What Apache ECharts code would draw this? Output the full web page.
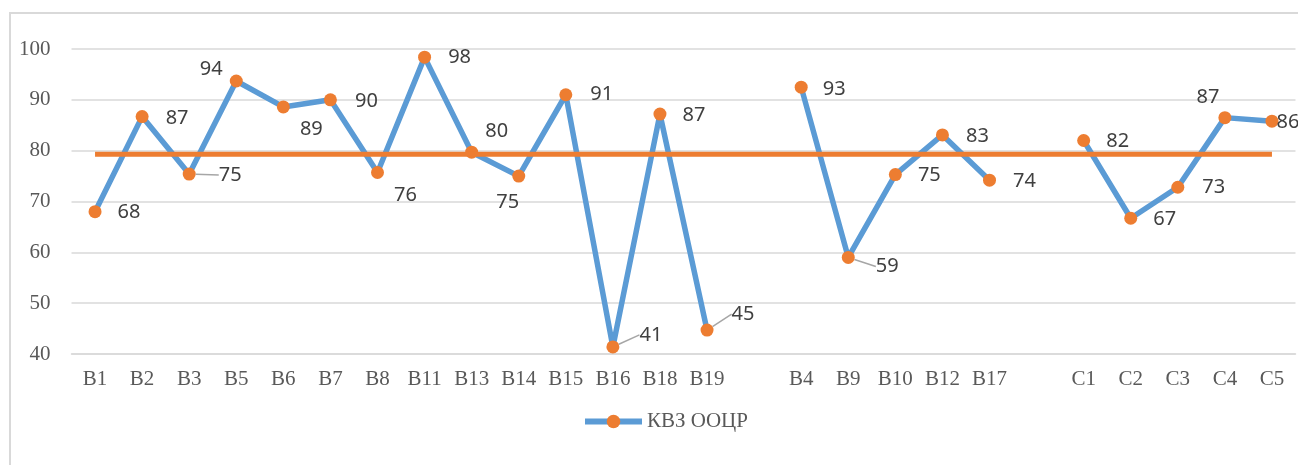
<!DOCTYPE html>
<html>
<head>
<meta charset="utf-8">
<script src="https://cdn.jsdelivr.net/npm/echarts@6/dist/echarts.min.js"></script>
<style>
  html, body { margin: 0; padding: 0; background: #fff; }
  #main { width: 1298px; height: 465px; }
</style>
</head>
<body>
<div id="main"></div>
<script>
// categories, '' = empty slot between groups
const categories = ['B1', 'B2', 'B3', 'B5', 'B6', 'B7', 'B8', 'B11', 'B13', 'B14', 'B15', 'B16', 'B18', 'B19', '',
  'B4', 'B9', 'B10', 'B12', 'B17', '',
  'C1', 'C2', 'C3', 'C4', 'C5']
// КВЗ ООЦР values
const kvzValues = [68, 86.7, 75.4, 93.7, 88.6, 90, 75.7, 98.4, 79.7, 75, 91, 41.4, 87.2, 44.7, null,
  92.5, 59, 75.3, 83.1, 74.2, null,
  82, 66.7, 72.8, 86.5, 85.8]
// the orange mean line
const meanValues = [79.3, 79.3, 79.3, 79.3, 79.3, 79.3, 79.3, 79.3, 79.3, 79.3, 79.3, 79.3, 79.3, 79.3, 79.3,
  79.3, 79.3, 79.3, 79.3, 79.3, 79.3,
  79.3, 79.3, 79.3, 79.3, 79.3]
const yMin = 40
const yMax = 100
const yStep = 10

// label nudges from the point (like in the excel picture), and which ones get a leader line
const labelNudge = [[34, 1], [35, 2], [41, 1], [-25, -12], [28, 22], [36, 1], [28, 23], [35, 0], [25, -21], [-11, 26], [36, 0], [38, -12], [34, 1], [36, -16], [0, 0],
  [33, 2], [39, 9], [34, 1], [35, 1], [35, 1], [0, 0],
  [34, 1], [34, 1], [36, 0], [-17, -20], [16, 1]]
const withLeader = [2, 11, 13, 16]

let chart = echarts.init(document.getElementById('main'))

let blueData = kvzValues.map((v, i) => {
  if (withLeader.indexOf(i) >= 0) {
    return { value: v, labelLine: { show: true } }
  }
  return v
})

let option = {
  animation: false,
  graphic: [
    {
      type: 'rect',
      shape: { x: 10, y: 13, width: 1400, height: 600 },
      style: { fill: 'none', stroke: '#d9d9d9', lineWidth: 2 },
      silent: true
    }
  ],
  grid: {
    left: 71.5,
    right: 2.5,
    top: 49,
    bottom: 111
  },
  legend: {
    data: ['КВЗ ООЦР'],
    left: 577,
    top: 406,
    itemWidth: 57,
    itemHeight: 17,
    lineStyle: { width: 6 },
    textStyle: {
      fontFamily: 'Liberation Serif',
      fontSize: 21,
      color: '#595959'
    }
  },
  xAxis: {
    type: 'category',
    data: categories,
    boundaryGap: true,
    axisLine: { show: true, lineStyle: { color: '#d9d9d9', width: 1.5 } },
    axisTick: { show: false },
    axisLabel: {
      interval: 0,
      margin: 15,
      fontFamily: 'Liberation Serif',
      fontSize: 21,
      color: '#595959'
    }
  },
  yAxis: {
    type: 'value',
    min: yMin,
    max: yMax,
    interval: yStep,
    axisLine: { show: false },
    axisTick: { show: false },
    splitLine: { lineStyle: { color: '#d9d9d9', width: 1.5 } },
    axisLabel: {
      margin: 21,
      fontFamily: 'Liberation Serif',
      fontSize: 21,
      color: '#595959'
    }
  },
  series: [
    {
      name: 'КВЗ ООЦР',
      type: 'line',
      data: blueData,
      z: 2,
      symbol: 'circle',
      symbolSize: 13,
      showAllSymbol: true,
      lineStyle: { color: '#5b9bd5', width: 5.5 },
      itemStyle: { color: '#ed7d31', borderWidth: 0 },
      label: {
        show: true,
        position: 'inside',
        fontFamily: 'Noto Sans',
        fontSize: 20,
        color: '#404040',
        formatter: (p) => Math.round(p.value)
      },
      labelLine: {
        show: false,
        lineStyle: { color: '#a6a6a6', width: 1.5 }
      },
      labelLayout: function (params) {
        let n = labelNudge[params.dataIndex] || [0, 0]
        return { dx: n[0], dy: n[1] }
      }
    },
    {
      name: 'mean',
      type: 'line',
      data: meanValues,
      z: 3,
      symbol: 'none',
      silent: true,
      lineStyle: { color: '#ed7d31', width: 5 }
    }
  ]
}

option && chart.setOption(option)
</script>
</body>
</html>
